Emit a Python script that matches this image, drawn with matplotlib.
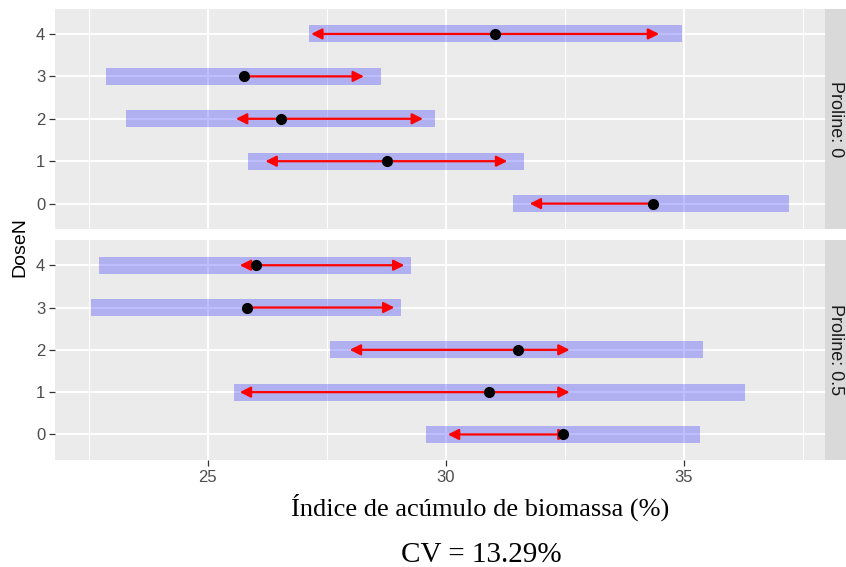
import numpy as np
import matplotlib
matplotlib.use('Agg')
from matplotlib import pyplot as plt

dose = [0, 1, 2, 3, 4]
dose_labels = ['0', '1', '2', '3', '4']
x_ticks = [25, 30, 35]

# Proline: 0
p0_emmean = [34.35, 28.77, 26.53, 25.77, 31.04]
p0_lower = [31.41, 25.85, 23.29, 22.87, 27.13]
p0_upper = [37.21, 31.65, 29.77, 28.64, 34.95]
p0_arrow_left = [31.76, 26.21, 25.59, np.nan, 27.17]
p0_arrow_right = [np.nan, 31.29, 29.52, 28.28, 34.48]

# Proline: 0.5
p5_emmean = [32.45, 30.91, 31.51, 25.83, 26.01]
p5_lower = [29.58, 25.54, 27.57, 22.54, 22.71]
p5_upper = [35.33, 36.29, 35.40, 29.06, 29.27]
p5_arrow_left = [30.04, 25.67, 27.98, np.nan, 25.67]
p5_arrow_right = [32.60, 32.60, 32.60, 28.92, 29.13]

panels = [
    ('Proline: 0', p0_emmean, p0_lower, p0_upper, p0_arrow_left, p0_arrow_right),
    ('Proline: 0.5', p5_emmean, p5_lower, p5_upper, p5_arrow_left, p5_arrow_right),
]

plt.rcParams['font.family'] = ['Liberation Sans', 'DejaVu Sans']

fig = plt.figure(figsize=(8.46, 5.67), dpi=100)
boxes = [(0.065, 0.596, 0.910, 0.389), (0.065, 0.189, 0.910, 0.388)]

for (label, emmean, lower, upper, aleft, aright), box in zip(panels, boxes):
    ax = fig.add_axes(box)
    ax.set_facecolor('#EBEBEB')
    for s in ax.spines.values():
        s.set_visible(False)
    ax.set_xlim(21.79, 37.96)
    ax.set_ylim(-0.6, 4.6)
    ax.set_xticks(x_ticks)
    ax.set_xticks([22.5, 27.5, 32.5, 37.5], minor=True)
    ax.set_yticks(dose)
    ax.set_yticklabels(dose_labels)
    ax.grid(True, which='major', color='white', lw=1.4)
    ax.grid(True, which='minor', axis='x', color='white', lw=0.7)
    ax.set_axisbelow(True)
    ax.tick_params(axis='both', which='major', colors='#333333', labelcolor='#4D4D4D',
                   labelsize=12, length=4, width=0.9, pad=3)
    ax.tick_params(axis='x', which='minor', length=0)

    ax.barh(dose, np.array(upper) - np.array(lower), left=lower, height=0.4,
            color='blue', alpha=0.25, lw=0, zorder=2)
    for yy, m, l, r in zip(dose, emmean, aleft, aright):
        for tip in (l, r):
            if not np.isnan(tip):
                ax.annotate('', xy=(tip, yy), xytext=(m, yy),
                            arrowprops=dict(arrowstyle='-|>', color='red', lw=1.6,
                                            mutation_scale=16, shrinkA=0, shrinkB=0),
                            zorder=3)
    ax.plot(emmean, dose, 'o', color='black', ms=7, zorder=4)

    if box[1] > 0.5:
        ax.tick_params(axis='x', labelbottom=False, length=0)

    sax = fig.add_axes((0.975, box[1], 0.025, box[3]))
    sax.set_facecolor('#D9D9D9')
    sax.set_xticks([])
    sax.set_yticks([])
    for s in sax.spines.values():
        s.set_visible(False)
    sax.text(0.5, 0.5, label, rotation=270, ha='center', va='center',
             fontsize=13, color='#1A1A1A', transform=sax.transAxes)

fig.text(0.024, 0.564, 'DoseN', rotation=90, ha='center', va='center',
         fontsize=14, color='black')
fig.text(0.567, 0.106, 'Índice de acúmulo de biomassa (%)', ha='center', va='center',
         fontsize=19, family=['Liberation Serif', 'DejaVu Serif'])
fig.text(0.569, 0.022, 'CV = 13.29%', ha='center', va='center',
         fontsize=21, family=['Liberation Serif', 'DejaVu Serif'])

fig.savefig('out.png', dpi=100)
